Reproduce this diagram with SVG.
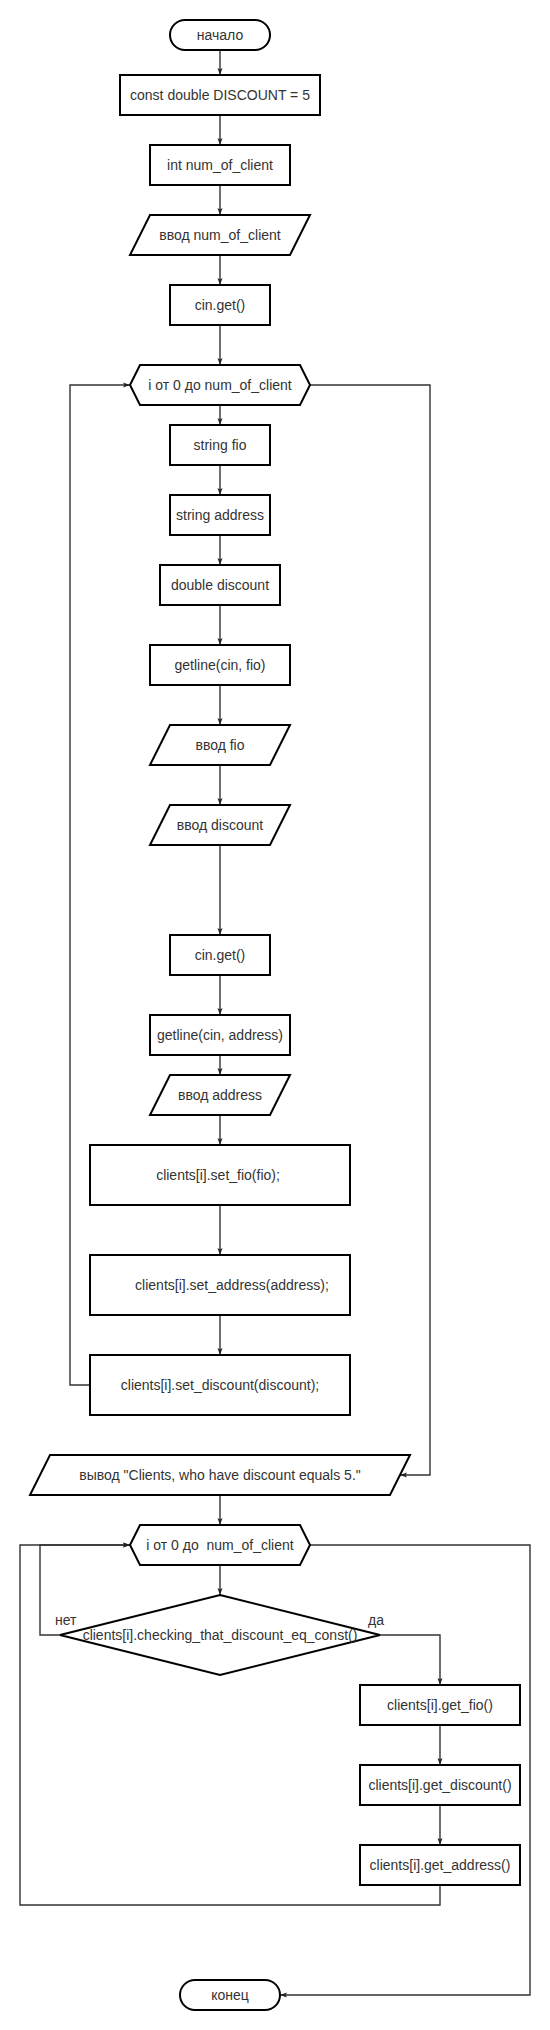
<svg xmlns="http://www.w3.org/2000/svg" width="550" height="2030" viewBox="0 0 550 2030">
<style>
.s{fill:#fff;stroke:#000;stroke-width:2}
.t{font-family:"Liberation Sans",Arial,sans-serif;font-size:14px;fill:#333;text-anchor:middle;dominant-baseline:central}
.l{font-family:"Liberation Sans",Arial,sans-serif;font-size:14px;fill:#333}
.c{fill:none;stroke:#333;stroke-width:1.4}
</style>
<defs>
<marker id="a" viewBox="-8 -4 9 8" refX="0" refY="0" markerWidth="9" markerHeight="8" markerUnits="userSpaceOnUse" orient="auto">
<path d="M-7,-2.5 L0,0 L-7,2.5 L-5.5,0 Z" fill="#222"/>
</marker>
</defs>
<rect width="550" height="2030" fill="#fff"/>
<g id="connectors">
<path class="c" marker-end="url(#a)" d="M220,50 V75"/>
<path class="c" marker-end="url(#a)" d="M220,115 V145"/>
<path class="c" marker-end="url(#a)" d="M220,185 V215"/>
<path class="c" marker-end="url(#a)" d="M220,255 V285"/>
<path class="c" marker-end="url(#a)" d="M220,325 V365"/>
<path class="c" marker-end="url(#a)" d="M220,405 V425"/>
<path class="c" marker-end="url(#a)" d="M220,465 V495"/>
<path class="c" marker-end="url(#a)" d="M220,535 V565"/>
<path class="c" marker-end="url(#a)" d="M220,605 V645"/>
<path class="c" marker-end="url(#a)" d="M220,685 V725"/>
<path class="c" marker-end="url(#a)" d="M220,765 V805"/>
<path class="c" marker-end="url(#a)" d="M220,845 V935"/>
<path class="c" marker-end="url(#a)" d="M220,975 V1015"/>
<path class="c" marker-end="url(#a)" d="M220,1055 V1075"/>
<path class="c" marker-end="url(#a)" d="M220,1115 V1145"/>
<path class="c" marker-end="url(#a)" d="M220,1205 V1255"/>
<path class="c" marker-end="url(#a)" d="M220,1315 V1355"/>
<path class="c" marker-end="url(#a)" d="M90,1385 H70 V385 H130"/>
<path class="c" marker-end="url(#a)" d="M310,385 H430 V1475 H400"/>
<path class="c" marker-end="url(#a)" d="M220,1495 V1525"/>
<path class="c" marker-end="url(#a)" d="M220,1565 V1595"/>
<path class="c" marker-end="url(#a)" d="M60,1635 H40 V1545 H130"/>
<path class="c" marker-end="url(#a)" d="M380,1635 H440 V1685"/>
<path class="c" marker-end="url(#a)" d="M440,1725 V1765"/>
<path class="c" marker-end="url(#a)" d="M440,1805 V1845"/>
<path class="c" marker-end="url(#a)" d="M440,1885 V1905 H20 V1545 H130"/>
<path class="c" marker-end="url(#a)" d="M310,1545 H530 V1995 H280"/>
<text class="l" x="55" y="1625">нет</text>
<text class="l" x="368" y="1625">да</text>
</g>
<g id="start"><rect class="s" x="170" y="20" width="100" height="30" rx="15"/><text class="t" x="220" y="35">начало</text></g>
<g id="const"><rect class="s" x="120" y="75" width="200" height="40"/><text class="t" x="220" y="95">const double DISCOUNT = 5</text></g>
<g id="intnum"><rect class="s" x="150" y="145" width="140" height="40"/><text class="t" x="220" y="165">int num_of_client</text></g>
<g id="inputnum"><path class="s" d="M150,215 H310 L290,255 H130 Z"/><text class="t" x="220" y="235">ввод num_of_client</text></g>
<g id="cinget1"><rect class="s" x="170" y="285" width="100" height="40"/><text class="t" x="220" y="305">cin.get()</text></g>
<g id="loop1"><path class="s" d="M130,385 L140,365 H300 L310,385 L300,405 H140 Z"/><text class="t" x="220" y="385">i от 0 до num_of_client</text></g>
<g id="strfio"><rect class="s" x="170" y="425" width="100" height="40"/><text class="t" x="220" y="445">string fio</text></g>
<g id="straddr"><rect class="s" x="170" y="495" width="100" height="40"/><text class="t" x="220" y="515">string address</text></g>
<g id="dbldisc"><rect class="s" x="160" y="565" width="120" height="40"/><text class="t" x="220" y="585">double discount</text></g>
<g id="getlinefio"><rect class="s" x="150" y="645" width="140" height="40"/><text class="t" x="220" y="665">getline(cin, fio)</text></g>
<g id="inputfio"><path class="s" d="M170,725 H290 L270,765 H150 Z"/><text class="t" x="220" y="745">ввод fio</text></g>
<g id="inputdisc"><path class="s" d="M170,805 H290 L270,845 H150 Z"/><text class="t" x="220" y="825">ввод discount</text></g>
<g id="cinget2"><rect class="s" x="170" y="935" width="100" height="40"/><text class="t" x="220" y="955">cin.get()</text></g>
<g id="getlineaddr"><rect class="s" x="150" y="1015" width="140" height="40"/><text class="t" x="220" y="1035">getline(cin, address)</text></g>
<g id="inputaddr"><path class="s" d="M170,1075 H290 L270,1115 H150 Z"/><text class="t" x="220" y="1095">ввод address</text></g>
<g id="setfio"><rect class="s" x="90" y="1145" width="260" height="60"/><text class="t" x="218" y="1175">clients[i].set_fio(fio);</text></g>
<g id="setaddr"><rect class="s" x="90" y="1255" width="260" height="60"/><text class="t" x="232" y="1285">clients[i].set_address(address);</text></g>
<g id="setdisc"><rect class="s" x="90" y="1355" width="260" height="60"/><text class="t" x="220" y="1385">clients[i].set_discount(discount);</text></g>
<g id="output"><path class="s" d="M50,1455 H410 L390,1495 H30 Z"/><text class="t" x="220" y="1475">вывод "Clients, who have discount equals 5."</text></g>
<g id="loop2"><path class="s" d="M130,1545 L140,1525 H300 L310,1545 L300,1565 H140 Z"/><text class="t" x="220" y="1545" xml:space="preserve">i от 0 до  num_of_client</text></g>
<g id="check"><path class="s" d="M220,1595 L380,1635 L220,1675 L60,1635 Z"/><text class="t" x="220" y="1635">clients[i].checking_that_discount_eq_const()</text></g>
<g id="getfio"><rect class="s" x="360" y="1685" width="160" height="40"/><text class="t" x="440" y="1705">clients[i].get_fio()</text></g>
<g id="getdisc"><rect class="s" x="360" y="1765" width="160" height="40"/><text class="t" x="440" y="1785">clients[i].get_discount()</text></g>
<g id="getaddr"><rect class="s" x="360" y="1845" width="160" height="40"/><text class="t" x="440" y="1865">clients[i].get_address()</text></g>
<g id="end"><rect class="s" x="180" y="1980" width="100" height="30" rx="15"/><text class="t" x="230" y="1995">конец</text></g>
</svg>
